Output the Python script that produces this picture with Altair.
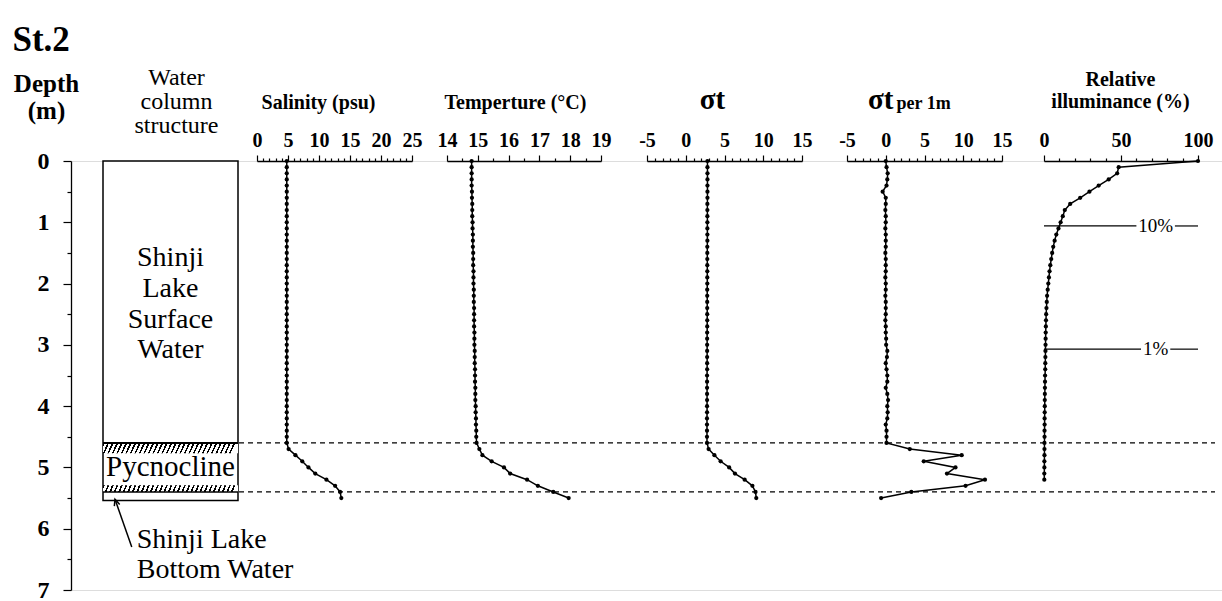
import altair as alt
import pandas as pd

SERIF = "Liberation Serif"

# ---------------- data ----------------
depth = [0.0, 0.1, 0.2, 0.3, 0.4, 0.5, 0.6, 0.7, 0.8, 0.9,
         1.0, 1.1, 1.2, 1.3, 1.4, 1.5, 1.6, 1.7, 1.8, 1.9,
         2.0, 2.1, 2.2, 2.3, 2.4, 2.5, 2.6, 2.7, 2.8, 2.9,
         3.0, 3.1, 3.2, 3.3, 3.4, 3.5, 3.6, 3.7, 3.8, 3.9,
         4.0, 4.1, 4.2, 4.3, 4.4, 4.5, 4.6,
         4.7, 4.8, 4.9, 5.0, 5.1, 5.2, 5.3, 5.4, 5.5]

salinity = [4.8, 4.8, 4.8, 4.8, 4.8, 4.8, 4.8, 4.8, 4.8, 4.8,
            4.8, 4.8, 4.8, 4.8, 4.8, 4.8, 4.8, 4.8, 4.8, 4.8,
            4.8, 4.8, 4.8, 4.8, 4.8, 4.8, 4.8, 4.8, 4.8, 4.8,
            4.8, 4.8, 4.8, 4.8, 4.8, 4.8, 4.8, 4.8, 4.8, 4.8,
            4.8, 4.8, 4.8, 4.8, 4.8, 4.8, 4.8,
            5.1, 6.2, 7.3, 8.3, 9.4, 11.2, 12.6, 13.4, 13.6]

temperature = [14.80, 14.80, 14.80, 14.80, 14.80, 14.81, 14.81, 14.82, 14.82, 14.82,
               14.83, 14.83, 14.84, 14.84, 14.84, 14.85, 14.85, 14.85, 14.86, 14.86,
               14.86, 14.87, 14.87, 14.87, 14.88, 14.88, 14.88, 14.88, 14.89, 14.89,
               14.89, 14.90, 14.90, 14.90, 14.91, 14.91, 14.91, 14.92, 14.92, 14.92,
               14.93, 14.93, 14.94, 14.94, 14.95, 14.95, 14.96,
               15.05, 15.15, 15.45, 15.85, 16.05, 16.60, 16.95, 17.45, 17.95]

sigma_t = [2.80, 2.80, 2.80, 2.80, 2.80, 2.80, 2.80, 2.79, 2.79, 2.79,
           2.79, 2.79, 2.79, 2.79, 2.78, 2.78, 2.78, 2.78, 2.78, 2.78,
           2.78, 2.77, 2.77, 2.77, 2.77, 2.77, 2.77, 2.77, 2.76, 2.76,
           2.76, 2.76, 2.76, 2.76, 2.76, 2.75, 2.75, 2.75, 2.75, 2.75,
           2.75, 2.75, 2.74, 2.74, 2.74, 2.74, 2.74,
           2.95, 3.70, 4.50, 5.60, 6.35, 7.60, 8.60, 9.00, 9.10]

sigma_per_m = [0.0, 0.1, 0.25, 0.2, 0.1, -0.4, 0.0, 0.0, -0.05, 0.0,
               0.0, -0.05, 0.0, 0.0, 0.0, -0.05, 0.0, 0.0, 0.0, -0.05,
               0.0, 0.0, -0.05, 0.0, 0.0, 0.0, -0.05, 0.0, 0.0, 0.05,
               0.05, 0.2, 0.15, 0.0, 0.1, 0.2, 0.2, 0.0, 0.2, 0.3,
               0.2, 0.25, 0.2, 0.0, 0.1, 0.1, 0.1,
               3.1, 9.8, 4.9, 9.0, 7.9, 12.8, 10.3, 3.3, -0.6]

illum_depth = [0.0, 0.1, 0.2, 0.3, 0.4, 0.5, 0.6, 0.7, 0.8, 0.9,
               1.0, 1.1, 1.2, 1.3, 1.4, 1.5, 1.6, 1.7, 1.8, 1.9,
               2.0, 2.1, 2.2, 2.3, 2.4, 2.5, 2.6, 2.7, 2.8, 2.9,
               3.0, 3.1, 3.2, 3.3, 3.4, 3.5, 3.6, 3.7, 3.8, 3.9,
               4.0, 4.1, 4.2, 4.3, 4.4, 4.5, 4.6, 4.7, 4.8, 4.9,
               5.0, 5.1, 5.2]
illuminance = [100, 48.5, 47.5, 42, 35.5, 29.5, 23.5, 17, 13.5, 12.2,
               10.8, 9.4, 8.0, 6.9, 6.0, 5.3, 4.7, 4.1, 3.6, 3.2,
               2.8, 2.4, 2.0, 1.8, 1.6, 1.4, 1.3, 1.2, 1.1, 1.05,
               1.0, 0.95, 0.9, 0.85, 0.8, 0.7, 0.65, 0.6, 0.55, 0.5,
               0.5, 0.45, 0.4, 0.4, 0.35, 0.35, 0.3, 0.3, 0.3, 0.25,
               0.25, 0.2, 0.2]

# structure of the water column (depths in m)
pycno_top = 4.60
pycno_bottom = 5.40
column_bottom = 5.54
hatch_bands = [(4.60, 4.77), (5.29, 5.40)]
surface_lines = ["Shinji", "Lake", "Surface", "Water"]
surface_depths = [1.58, 2.09, 2.59, 3.08]
bottom_lines = ["Shinji Lake", "Bottom Water"]
bottom_depths = [6.31, 6.80]
arrow = {"x0": 0.213, "d0": 6.30, "x1": 0.089, "d1": 5.52}

light_levels = ["10%", "1%"]
light_depths = [1.06, 3.07]
light_gaps = [(60, 85), (63, 82)]

# ---------------- helpers ----------------
YS = alt.Scale(domain=[0, 7], reverse=True, nice=False, zero=False)


def xscale(domain, rng):
    return alt.Scale(domain=domain, range=rng, nice=False, zero=False)


BOX = xscale([0, 1], [32, 167])
DASH = xscale([0, 1], [168, 1144])
SAL = xscale([0, 25], [186, 341])
TEM = xscale([14, 19], [376, 530])
SIG = xscale([-5, 15], [576, 731])
SPM = xscale([-5, 15], [776, 931])
ILL = xscale([0, 100], [973, 1127])


def top_axis(values, major, title, tx, ty, tsize=20, lh=22, align="center"):
    return alt.Axis(
        orient="top", values=values,
        labelExpr=f"({major}) ? '' + datum.value : ''",
        tickSize={"condition": {"test": major, "value": 6}, "value": 3},
        labelFont=SERIF, labelFontSize=20, labelFontWeight="bold", labelColor="black",
        labelPadding=5, labelAngle=0, labelOverlap=False, labelFlush=False,
        domainColor="black", domainWidth=1.3, tickColor="black", tickWidth=1.2,
        grid=False,
        title=title, titleX=tx, titleY=ty, titleAlign=align, titleBaseline="alphabetic",
        titleFont=SERIF, titleFontSize=tsize, titleFontWeight="bold", titleColor="black",
        titleLineHeight=lh, titleAngle=0,
    )


def title_only_axis(title, tx, ty, tsize, weight="normal", lh=24, align="center"):
    return alt.Axis(
        orient="top", domain=False, ticks=False, labels=False, grid=False,
        title=title, titleX=tx, titleY=ty, titleAlign=align, titleBaseline="alphabetic",
        titleFont=SERIF, titleFontSize=tsize, titleFontWeight=weight, titleColor="black",
        titleLineHeight=lh, titleAngle=0,
    )


def hatch_gradient(n, slope):
    stops = []
    for i in range(n):
        a, b, c = i / n, (i + 0.38) / n, (i + 1) / n
        stops += [alt.GradientStop(offset=a, color="black"),
                  alt.GradientStop(offset=b, color="black"),
                  alt.GradientStop(offset=b, color="white"),
                  alt.GradientStop(offset=min(c, 1.0), color="white")]
    return alt.LinearGradient(gradient="linear", stops=stops, x1=0, y1=0, x2=1, y2=slope)


y_axis = alt.Axis(
    orient="left", values=[0, 0.5, 1, 1.5, 2, 2.5, 3, 3.5, 4, 4.5, 5, 5.5, 6, 6.5, 7],
    labelExpr="datum.value % 1 === 0 ? '' + datum.value : ''",
    tickSize={"condition": {"test": "datum.value % 1 === 0", "value": 8}, "value": 4},
    labelFont=SERIF, labelFontSize=24, labelFontWeight="bold", labelColor="black",
    labelPadding=14, labelOverlap=False, labelFlush=False, labelBound=False,
    domainColor="black", domainWidth=1.3, tickColor="black", tickWidth=1.2, grid=False,
    title=["Depth", "(m)"], titleAngle=0, titleX=-25, titleY=-70, titleAlign="center",
    titleBaseline="alphabetic", titleFont=SERIF, titleFontSize=25, titleFontWeight="bold",
    titleColor="black", titleLineHeight=27,
)

# ---------------- layers ----------------
dash_df = pd.DataFrame({"x0": [0, 0], "x1": [1, 1], "depth": [pycno_top, pycno_bottom]})
dashed = alt.Chart(dash_df).mark_rule(color="black", strokeWidth=1.3, strokeDash=[5, 4]).encode(
    x=alt.X("x0:Q", scale=DASH,
            axis=title_only_axis("St.2", -59, -111, 35, weight="bold", align="left")),
    x2="x1:Q",
    y=alt.Y("depth:Q", scale=YS, axis=None),
)

box_df = pd.DataFrame({"x0": [0], "x1": [1], "top": [0.0], "bottom": [column_bottom]})
box = alt.Chart(box_df).mark_rect(fill="white", stroke="black", strokeWidth=1.5).encode(
    x=alt.X("x0:Q", scale=BOX,
            axis=title_only_axis(["Water", "column", "structure"], 105, -77, 24, lh=24)),
    x2="x1:Q",
    y=alt.Y("top:Q", scale=YS, axis=y_axis),
    y2="bottom:Q",
)

hatch_layers = []
for (t, b), slope in zip(hatch_bands, [0.035, 0.02]):
    hdf = pd.DataFrame({"x0": [0], "x1": [1], "top": [t], "bottom": [b]})
    hatch_layers.append(
        alt.Chart(hdf).mark_rect(fill=hatch_gradient(30, slope), strokeWidth=0).encode(
            x=alt.X("x0:Q", scale=BOX, axis=None), x2="x1:Q",
            y=alt.Y("top:Q", scale=YS, axis=None), y2="bottom:Q",
        )
    )

bound_df = pd.DataFrame({"x0": [0, 0], "x1": [1, 1], "depth": [pycno_top, pycno_bottom],
                         "w": [2.0, 1.5]})
bounds = alt.Chart(bound_df).mark_rule(color="black").encode(
    x=alt.X("x0:Q", scale=BOX, axis=None), x2="x1:Q",
    y=alt.Y("depth:Q", scale=YS, axis=None),
    strokeWidth=alt.StrokeWidth("w:Q", scale=None, legend=None),
)

surf_df = pd.DataFrame({"x": [0.5] * 4, "depth": surface_depths, "t": surface_lines})
surf_text = alt.Chart(surf_df).mark_text(font=SERIF, fontSize=28, color="black",
                                         baseline="middle", align="center").encode(
    x=alt.X("x:Q", scale=BOX, axis=None), y=alt.Y("depth:Q", scale=YS, axis=None), text="t:N")

pyc_df = pd.DataFrame({"x": [0.5], "depth": [(pycno_top + pycno_bottom) / 2], "t": ["Pycnocline"]})
pyc_text = alt.Chart(pyc_df).mark_text(font=SERIF, fontSize=29, color="black",
                                       baseline="middle", align="center").encode(
    x=alt.X("x:Q", scale=BOX, axis=None), y=alt.Y("depth:Q", scale=YS, axis=None), text="t:N")

bot_df = pd.DataFrame({"x": [0.25, 0.25], "depth": bottom_depths, "t": bottom_lines})
bot_text = alt.Chart(bot_df).mark_text(font=SERIF, fontSize=28, color="black",
                                       baseline="alphabetic", align="left").encode(
    x=alt.X("x:Q", scale=BOX, axis=None), y=alt.Y("depth:Q", scale=YS, axis=None), text="t:N")

arr_df = pd.DataFrame([arrow])
arrow_line = alt.Chart(arr_df).mark_rule(color="black", strokeWidth=1.5).encode(
    x=alt.X("x0:Q", scale=BOX, axis=None), x2="x1:Q",
    y=alt.Y("d0:Q", scale=YS, axis=None), y2="d1:Q")
arrow_head = alt.Chart(arr_df).mark_point(
    shape="M-0.45,1L0,0L0.45,1", filled=False, stroke="black", strokeWidth=1.5,
    size=160, angle=341.5, opacity=1).encode(
    x=alt.X("x1:Q", scale=BOX, axis=None), y=alt.Y("d1:Q", scale=YS, axis=None))


def profile(values, dep, scale, axis):
    df = pd.DataFrame({"depth": dep, "value": values})
    return alt.Chart(df).mark_line(
        color="black", strokeWidth=1.5,
        point=alt.OverlayMarkDef(filled=True, fill="black", color="black", size=18)).encode(
        x=alt.X("value:Q", scale=scale, axis=axis),
        y=alt.Y("depth:Q", scale=YS, axis=None),
        order=alt.Order("depth:Q"),
    )


sal_p = profile(salinity, depth, SAL,
                top_axis(list(range(0, 26)), "datum.value % 5 === 0", "Salinity (psu)", 247, -53))
tem_p = profile(temperature, depth, TEM,
                top_axis([14, 14.5, 15, 15.5, 16, 16.5, 17, 17.5, 18, 18.5, 19],
                         "datum.value % 1 === 0", "Temperture (°C)", 444, -53))
sig_p = profile(sigma_t, depth, SIG,
                top_axis(list(range(-5, 16)), "datum.value % 5 === 0", "σt", 641, -53, tsize=29))
spm_p = profile(sigma_per_m, depth, SPM,
                top_axis(list(range(-5, 16)), "datum.value % 5 === 0", "σt", 822, -53,
                         tsize=29, align="right"))
spm_extra = alt.Chart(pd.DataFrame({"depth": depth, "value": sigma_per_m})).mark_point(
    opacity=0).encode(
    x=alt.X("value:Q", scale=SPM,
            axis=title_only_axis("per 1m", 825, -53, 18, weight="bold", align="left")),
    y=alt.Y("depth:Q", scale=YS, axis=None))
ill_p = profile(illuminance, illum_depth, ILL,
                top_axis([0, 10, 20, 30, 40, 50, 60, 70, 80, 90, 100], "datum.value % 50 === 0",
                         ["Relative", "illuminance (%)"], 1049, -76, lh=22))

seg_rows = []
for lvl, d, (g0, g1) in zip(light_levels, light_depths, light_gaps):
    seg_rows.append({"depth": d, "a": 0, "b": g0})
    seg_rows.append({"depth": d, "a": g1, "b": 100})
light_rules = alt.Chart(pd.DataFrame(seg_rows)).mark_rule(color="black", strokeWidth=1.2).encode(
    x=alt.X("a:Q", scale=ILL, axis=None), x2="b:Q",
    y=alt.Y("depth:Q", scale=YS, axis=None))
lab_df = pd.DataFrame({"depth": light_depths, "x": [(g0 + g1) / 2 for g0, g1 in light_gaps],
                       "t": light_levels})
light_text = alt.Chart(lab_df).mark_text(font=SERIF, fontSize=19, color="black",
                                         baseline="middle", align="center").encode(
    x=alt.X("x:Q", scale=ILL, axis=None), y=alt.Y("depth:Q", scale=YS, axis=None), text="t:N")

chart = alt.layer(
    dashed, box, *hatch_layers, bounds, surf_text, pyc_text, bot_text, arrow_line, arrow_head,
    light_rules, light_text, sal_p, tem_p, sig_p, spm_p, spm_extra, ill_p,
).resolve_scale(x="independent").resolve_axis(x="independent", y="independent").properties(
    width=1151, height=429,
    padding={"left": 71, "top": 161, "right": 0, "bottom": 11},
    autosize=alt.AutoSizeParams(type="none"),
).configure_view(stroke=None).configure(background="white")

chart.save("out.html", embed_options={"renderer": "svg", "actions": False})
